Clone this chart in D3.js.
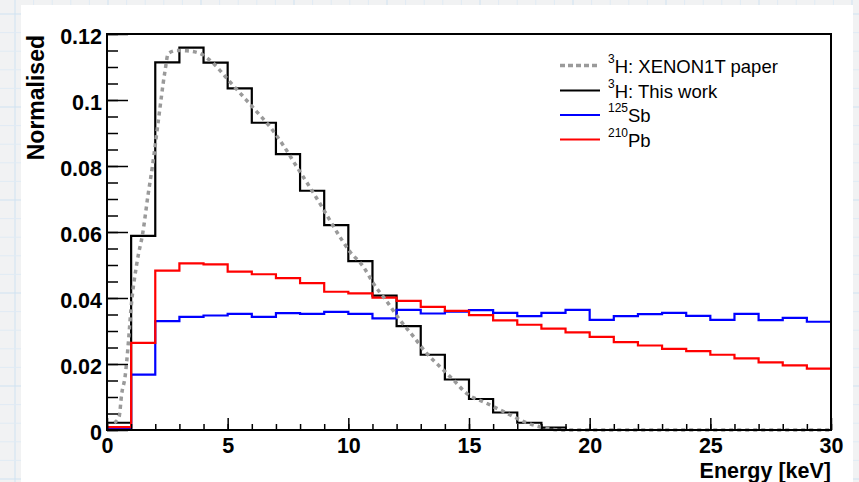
<!DOCTYPE html>
<html>
<head>
<meta charset="utf-8">
<script src="https://cdn.jsdelivr.net/npm/d3@7"></script>
<style>
  html, body { margin: 0; padding: 0; background: #f1f2f3; }
  svg { display: block; }
  text { font-family: "Liberation Sans", Arial, Helvetica, sans-serif; }
</style>
</head>
<body>
<svg id="chart" width="859" height="482"></svg>
<script>
// bins are 1 keV wide, from 0 to 30 keV
var binEdges = d3.range(0, 31);
var tritiumThisWork = [0.0022, 0.0588, 0.1114, 0.1159, 0.1113, 0.1035, 0.0931, 0.0836, 0.0725, 0.0621,
    0.0512, 0.0407, 0.0315, 0.0228, 0.0153, 0.0094, 0.0053, 0.0022, 0.0007, 0,
    0, 0, 0, 0, 0, 0, 0, 0, 0, 0];
var sb125 = [0.0004, 0.0168, 0.0330, 0.0343, 0.0347, 0.0352, 0.0343, 0.0354, 0.0352, 0.0358,
    0.0352, 0.0338, 0.0364, 0.0353, 0.0359, 0.0363, 0.0355, 0.0345, 0.0355, 0.0364,
    0.0334, 0.0345, 0.0351, 0.0355, 0.0346, 0.0334, 0.0352, 0.0333, 0.0340, 0.0328];
var pb210 = [0.0009, 0.0264, 0.0483, 0.0505, 0.0502, 0.0480, 0.0472, 0.0460, 0.0445, 0.0419,
    0.0414, 0.0401, 0.0391, 0.0373, 0.0361, 0.0348, 0.0332, 0.0319, 0.0307, 0.0296,
    0.0282, 0.0266, 0.0256, 0.0246, 0.0239, 0.0228, 0.0217, 0.0205, 0.0196, 0.0186];
// XENON1T paper curve, [energy keV, value]
var tritiumPaper = [[0.3, 0.0022], [0.5, 0.0040], [0.61, 0.0110], [0.75, 0.0162], [0.88, 0.0260], [0.99, 0.0364],
    [1.26, 0.0515], [1.48, 0.0596], [1.71, 0.0717], [1.88, 0.0798], [2.13, 0.0939], [2.4, 0.1086],
    [2.54, 0.1141], [2.9, 0.1150], [3.3, 0.1149], [3.85, 0.1141], [4.41, 0.1111], [4.96, 0.1066],
    [5.65, 0.1010], [6.2, 0.0965], [6.75, 0.0919], [7.31, 0.0862], [7.86, 0.0798], [8.48, 0.0727],
    [8.9, 0.0677], [9.31, 0.0626], [9.73, 0.0576], [10.07, 0.0540], [10.62, 0.0495], [11.04, 0.0444],
    [11.6, 0.0389], [12.14, 0.0333], [12.7, 0.0283], [13.25, 0.0232], [13.8, 0.0192], [14.35, 0.0152],
    [14.9, 0.0111], [15.73, 0.0081], [16.56, 0.0051], [17.39, 0.0022], [18.22, 0.0005], [18.8, 0], [30, 0]];

var xTicks = [0, 5, 10, 15, 20, 25, 30];
var xTickLabels = ["0", "5", "10", "15", "20", "25", "30"];
var yTicks = [0, 0.02, 0.04, 0.06, 0.08, 0.1, 0.12];
var yTickLabels = ["0", "0.02", "0.04", "0.06", "0.08", "0.1", "0.12"];

var legendNames = [["3", "H: XENON1T paper"], ["3", "H: This work"], ["125", "Sb"], ["210", "Pb"]];

var W = 859, H = 482;
var svg = d3.select("#chart");

// page background: light squared paper
var bg = svg.append("g");
var step = 18.6;
d3.range(-1, 50).forEach(function (i) {
    var gx = 15 + (i - 1) * step;
    bg.append("line").attr("x1", gx).attr("x2", gx).attr("y1", 0).attr("y2", H)
        .attr("stroke", i % 5 === 1 ? "#cfe2f1" : "#e0ebf4").attr("stroke-width", 1);
});
d3.range(-12, 30).forEach(function (i) {
    var gy = 200 + i * step;
    bg.append("line").attr("x1", 0).attr("x2", W).attr("y1", gy).attr("y2", gy)
        .attr("stroke", i % 5 === 0 ? "#cfe2f1" : "#e0ebf4").attr("stroke-width", 1);
});
svg.append("rect").attr("x", 21).attr("y", 5).attr("width", 832).attr("height", H - 5).attr("fill", "#fff");

var x = d3.scaleLinear().domain([0, 30]).range([107, 831]),
    y = d3.scaleLinear().domain([0, 0.12]).range([430, 34]);

var histLine = d3.line()
    .x(function (d) { return x(d[0]); })
    .y(function (d) { return y(d[1]); })
    .curve(d3.curveStepAfter);

function histPoints(vals) {
    var p = vals.map(function (v, i) { return [binEdges[i], v]; });
    p.push([binEdges[vals.length], vals[vals.length - 1]]);
    return p;
}

var plot = svg.append("g");
plot.append("path").attr("d", histLine(histPoints(tritiumThisWork)))
    .attr("fill", "none").attr("stroke", "#000").attr("stroke-width", 2.2);
plot.append("path").attr("d", histLine(histPoints(sb125)))
    .attr("fill", "none").attr("stroke", "#0000ff").attr("stroke-width", 2.2);
plot.append("path").attr("d", histLine(histPoints(pb210)))
    .attr("fill", "none").attr("stroke", "#ff0000").attr("stroke-width", 2.2);

var curve = d3.line()
    .x(function (d) { return x(d[0]); })
    .y(function (d) { return y(d[1]); })
    .curve(d3.curveMonotoneX);
plot.append("path").attr("d", curve(tritiumPaper))
    .attr("fill", "none").attr("stroke", "#9a9a9a").attr("stroke-width", 3.5)
    .attr("stroke-dasharray", "4,4");

// axes (ROOT style, ticks inside the frame)
svg.append("g").attr("transform", "translate(0,430)")
    .call(d3.axisBottom(x).tickValues(xTicks).tickSizeInner(-12).tickSizeOuter(0).tickPadding(7.5)
        .tickFormat(function (d, i) { return xTickLabels[i]; }));
svg.append("g").attr("transform", "translate(0,430)")
    .call(d3.axisBottom(x).tickValues(d3.range(0, 31)).tickSizeInner(-6).tickSizeOuter(0).tickFormat(""));
var yAxis = svg.append("g").attr("transform", "translate(107,0)")
    .call(d3.axisLeft(y).tickValues(yTicks).tickSizeInner(-21).tickSizeOuter(0).tickPadding(5)
        .tickFormat(function (d, i) { return yTickLabels[i]; }));
svg.append("g").attr("transform", "translate(107,0)")
    .call(d3.axisLeft(y).tickValues(d3.range(0, 25).map(function (i) { return i * 0.005; }))
        .tickSizeInner(-11).tickSizeOuter(0).tickFormat(""));
svg.selectAll(".domain").remove();
svg.selectAll(".tick line").attr("stroke", "#000").attr("stroke-width", 1.5);
svg.selectAll(".tick text").attr("fill", "#000").style("font-size", "21.5px").style("font-weight", "bold")
    .style("font-family", "'Liberation Sans', Arial, sans-serif");
yAxis.selectAll(".tick text").attr("dy", "0.45em");

svg.append("rect").attr("x", 107).attr("y", 34).attr("width", 724).attr("height", 396)
    .attr("fill", "none").attr("stroke", "#000").attr("stroke-width", 2);

// axis titles
svg.append("text").attr("x", 831).attr("y", 478).attr("text-anchor", "end")
    .style("font-size", "21.5px").style("font-weight", "bold").text("Energy [keV]");
svg.append("text").attr("transform", "translate(43.5,35) rotate(-90)").attr("text-anchor", "end")
    .style("font-size", "23px").style("font-weight", "bold").text("Normalised");

// legend
var legendStyles = [
    { color: "#9a9a9a", width: 3.5, dash: "5,3" },
    { color: "#000", width: 2.2, dash: null },
    { color: "#0000ff", width: 2.2, dash: null },
    { color: "#ff0000", width: 2.2, dash: null }
];
var legendBase = [72.5, 97.5, 122, 146.5];
var lg = svg.append("g");
legendNames.forEach(function (n, i) {
    var by = legendBase[i];
    lg.append("line").attr("x1", 560).attr("x2", 600).attr("y1", by - 7).attr("y2", by - 7)
        .attr("stroke", legendStyles[i].color).attr("stroke-width", legendStyles[i].width)
        .attr("stroke-dasharray", legendStyles[i].dash);
    var t = lg.append("text").attr("x", 608).attr("y", by).attr("fill", "#000");
    t.append("tspan").attr("dy", -10).style("font-size", "12px").text(n[0]);
    t.append("tspan").attr("dy", 10).style("font-size", "18.5px").text(n[1]);
});
</script>
</body>
</html>
